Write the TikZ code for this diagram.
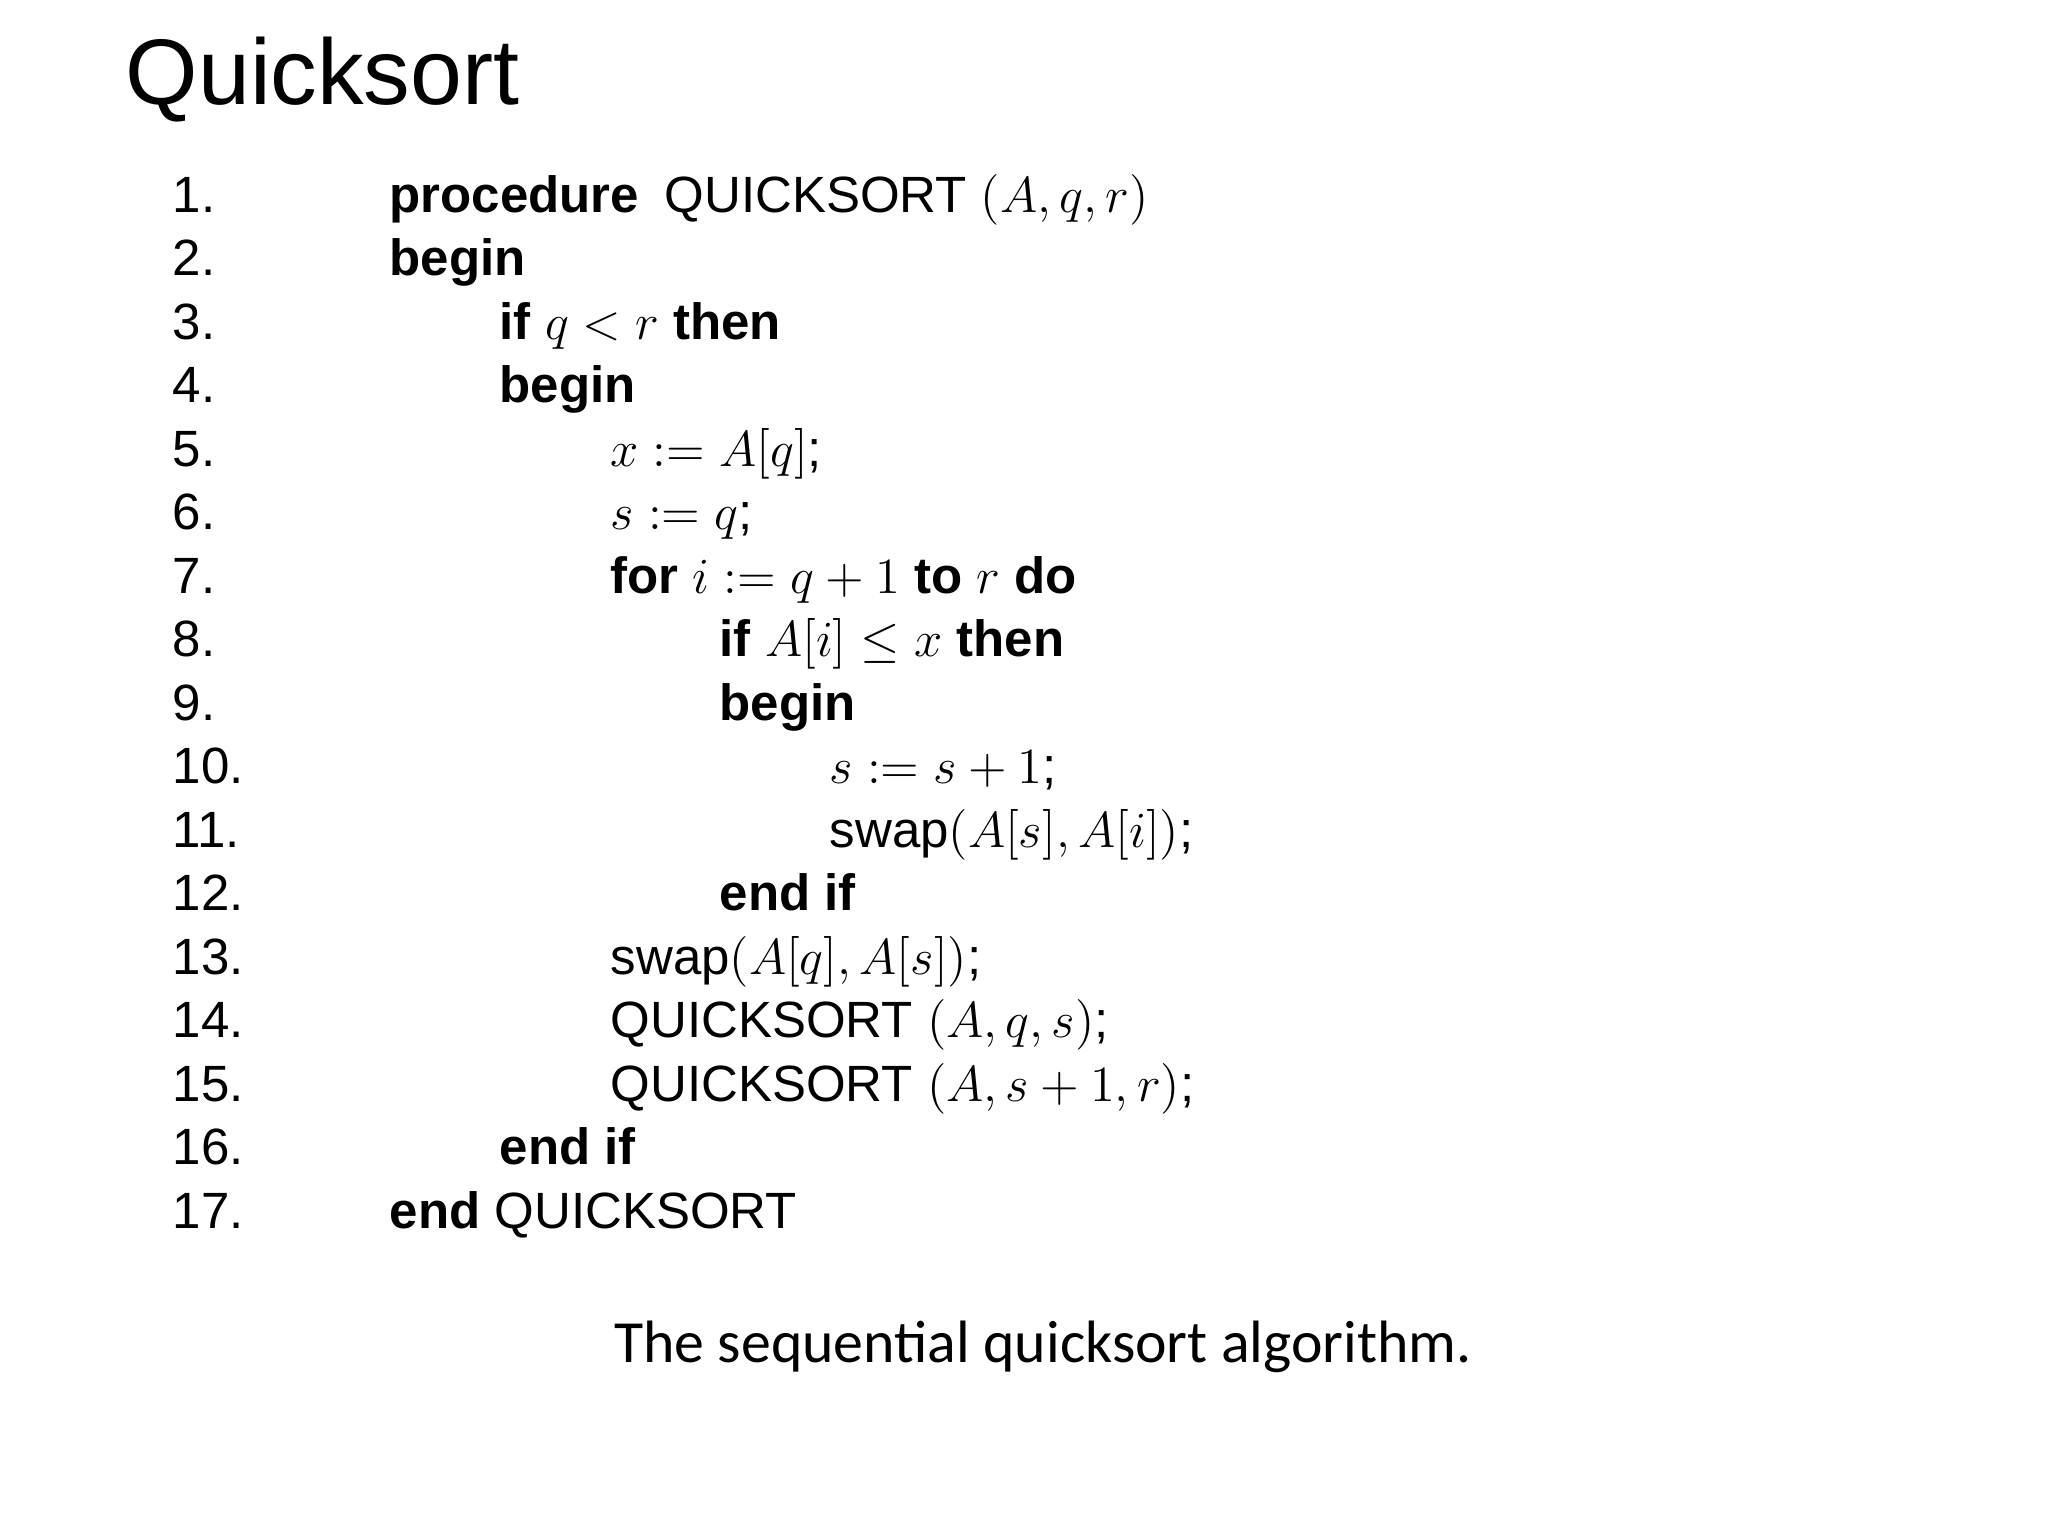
\documentclass[tikz,border=0pt]{standalone}
\usepackage{fontspec}
\setmainfont{Liberation Sans}
\newfontfamily\capfont{Carlito}
\begin{document}
\begin{tikzpicture}[x=0.01cm,y=-0.01cm,
  code/.style={anchor=base west,inner sep=0pt,font=\fontsize{14.5pt}{17pt}\selectfont},
  num/.style={code}]
\useasboundingbox (0,0) rectangle (2048,1536);
\node[anchor=base west,inner sep=0pt,font=\fontsize{26.5pt}{32pt}\selectfont] (title) at (125,104) {Quicksort};
\foreach \k in {1,...,17}{
  \node[num] (n\k) at (172,{212+63.5*(\k-1)}) {\k.};
}
\node[code] (c1) at (389,{212+63.5*0}) {\textbf{procedure}\enspace QUICKSORT $(A,q,r)$};
\node[code] (c2) at (389,{212+63.5*1}) {\textbf{begin}};
\node[code] (c3) at (499,{212+63.5*2}) {\textbf{if} $q<r$ \textbf{then}};
\node[code] (c4) at (499,{212+63.5*3}) {\textbf{begin}};
\node[code] (c5) at (610,{212+63.5*4}) {$x:=A[q]$;};
\node[code] (c6) at (610,{212+63.5*5}) {$s:=q$;};
\node[code] (c7) at (610,{212+63.5*6}) {\textbf{for} $i:=q+1$ \textbf{to} $r$ \textbf{do}};
\node[code] (c8) at (719,{212+63.5*7}) {\textbf{if} $A[i]\le x$ \textbf{then}};
\node[code] (c9) at (719,{212+63.5*8}) {\textbf{begin}};
\node[code] (c10) at (829,{212+63.5*9}) {$s:=s+1$;};
\node[code] (c11) at (829,{212+63.5*10}) {swap$(A[s],A[i])$;};
\node[code] (c12) at (719,{212+63.5*11}) {\textbf{end if}};
\node[code] (c13) at (610,{212+63.5*12}) {swap$(A[q],A[s])$;};
\node[code] (c14) at (610,{212+63.5*13}) {QUICKSORT $(A,q,s)$;};
\node[code] (c15) at (610,{212+63.5*14}) {QUICKSORT $(A,s+1,r)$;};
\node[code] (c16) at (499,{212+63.5*15}) {\textbf{end if}};
\node[code] (c17) at (389,{212+63.5*16}) {\textbf{end} QUICKSORT};
\node[anchor=base,inner sep=0pt,font=\capfont\fontsize{17pt}{20pt}\selectfont] (cap) at (1043,1362) {The sequential quicksort algorithm.};
\end{tikzpicture}
\end{document}
